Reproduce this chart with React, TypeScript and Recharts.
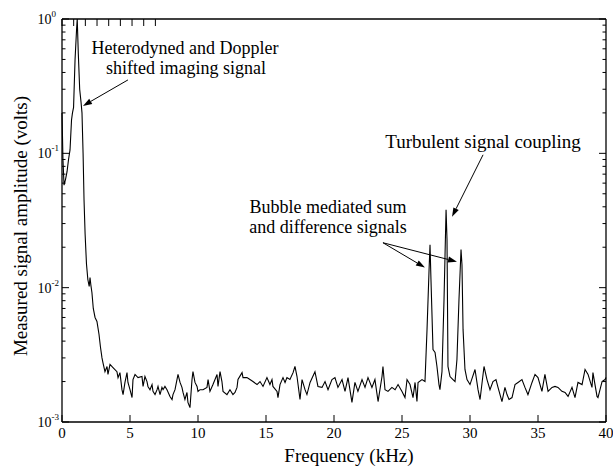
import { LineChart, Line, XAxis, YAxis, ReferenceLine, ReferenceDot } from "recharts";

// spectrum (kHz, volts)
const freqKHz = [
  0, 0.07, 0.15, 0.26, 0.37, 0.48, 0.59, 0.7, 0.77, 0.85, 0.96, 1.07, 1.12, 1.2, 1.3, 1.4, 1.47, 1.55, 1.62, 1.7,
  1.8, 1.9, 2.0, 2.06, 2.12, 2.2, 2.3, 2.43, 2.57, 2.72, 2.83, 2.94,
  3.01, 3.16, 3.31, 3.38, 3.53, 3.75, 4.04, 4.12, 4.26, 4.41, 4.49, 4.63, 4.78, 4.85, 5.0, 5.15, 5.22, 5.37, 5.59,
  5.88, 5.96, 6.1, 6.25, 6.32, 6.47, 6.62, 6.69, 6.84, 6.99, 7.06, 7.21, 7.35, 7.43, 7.57, 7.72, 7.94, 8.09, 8.16,
  8.31, 8.53, 8.68, 8.82, 8.9, 9.04, 9.19, 9.26, 9.41, 9.56, 9.63, 9.78, 9.93, 10.0, 10.15, 10.37, 10.66, 10.74,
  10.88, 11.1, 11.4, 11.47, 11.62, 11.76, 11.84, 12.13, 12.35, 12.57, 12.72, 12.87, 12.94, 13.24, 13.31, 13.6,
  13.82, 14.04, 14.34, 14.56, 14.78, 15.07, 15.29, 15.44, 15.51, 15.81, 15.88, 16.03, 16.25, 16.4, 16.54, 16.76,
  16.99, 17.13, 17.28, 17.5, 17.65, 17.87, 18.01, 18.24, 18.6, 18.82, 19.12, 19.34, 19.56, 19.85, 20.07, 20.29,
  20.59, 20.81, 21.03, 21.32, 21.54, 21.76, 22.06, 22.28, 22.5, 22.79, 23.01, 23.24, 23.53, 23.6, 23.75, 23.97,
  24.26, 24.49, 24.71, 25.0, 25.22, 25.37, 25.59, 25.81, 25.96, 26.1, 26.18, 26.47, 26.69,
  26.84, 26.99, 27.06, 27.13, 27.28, 27.43, 27.57, 27.72, 27.79, 27.94, 28.09, 28.24, 28.31, 28.38, 28.53, 28.75,
  28.9, 29.04, 29.19, 29.34, 29.41, 29.49, 29.63, 29.78,
  30.0, 30.37, 30.59, 30.74, 31.03, 31.25, 31.47, 31.69, 31.91, 32.06, 32.35, 32.57, 32.72, 32.87, 33.09, 33.31,
  33.53, 33.82, 34.04, 34.26, 34.56, 34.78, 35.0, 35.29, 35.51, 35.74, 36.03, 36.25, 36.47, 36.76, 36.99, 37.21,
  37.5, 37.72, 37.94, 38.24, 38.46, 38.68, 38.97, 39.04, 39.34, 39.41, 39.71, 39.93, 40.0,
];

const amplitudeV = [
  0.2, 0.09, 0.058, 0.064, 0.073, 0.09, 0.106, 0.177, 0.2, 0.22, 0.5, 0.83, 1.0, 0.55, 0.3, 0.24, 0.2, 0.1, 0.045, 0.025,
  0.015, 0.0115, 0.0102, 0.0119, 0.0105, 0.0092, 0.007, 0.006, 0.0056, 0.0045, 0.0036, 0.003,
  2.77e-3, 2.37e-3, 2.59e-3, 2.26e-3, 2.68e-3, 2.54e-3, 2.37e-3, 2.14e-3, 2.33e-3, 1.74e-3, 1.6e-3, 1.97e-3, 2.33e-3,
  1.97e-3, 1.74e-3, 1.52e-3, 2.07e-3, 2.26e-3, 2.14e-3,
  2.18e-3, 1.84e-3, 2.18e-3, 2.0e-3, 1.84e-3, 1.74e-3, 1.9e-3, 1.69e-3, 1.6e-3, 1.74e-3, 1.84e-3, 1.6e-3, 1.81e-3,
  1.74e-3, 1.84e-3, 1.74e-3, 1.55e-3, 1.47e-3, 1.6e-3,
  1.74e-3, 2.26e-3, 1.97e-3, 1.81e-3, 1.66e-3, 1.47e-3, 1.66e-3, 1.4e-3, 1.28e-3, 2.07e-3, 2.37e-3, 1.97e-3, 1.84e-3,
  1.69e-3, 1.74e-3, 1.74e-3, 1.81e-3, 2.07e-3,
  1.69e-3, 1.9e-3, 2.26e-3, 1.84e-3, 2.37e-3, 2.0e-3, 1.69e-3, 1.6e-3, 1.74e-3, 1.6e-3, 1.66e-3, 1.81e-3, 2.07e-3,
  2.33e-3, 2.14e-3, 2.14e-3,
  2.07e-3, 2.0e-3, 1.9e-3, 2.0e-3, 1.84e-3, 2.14e-3, 1.9e-3, 2.07e-3, 1.84e-3, 1.69e-3, 1.52e-3, 1.9e-3, 2.14e-3,
  1.97e-3, 2.14e-3, 2.07e-3,
  2.33e-3, 2.59e-3, 2.18e-3, 1.47e-3, 2.07e-3, 1.74e-3, 1.6e-3, 1.97e-3, 2.37e-3, 1.84e-3, 1.81e-3, 2.0e-3, 1.74e-3,
  2.07e-3, 2.14e-3, 1.81e-3,
  2.07e-3, 1.69e-3, 2.14e-3, 1.4e-3, 1.97e-3, 1.69e-3, 2.07e-3, 1.81e-3, 2.14e-3, 1.81e-3, 2.07e-3, 1.42e-3, 2.18e-3,
  2.59e-3, 1.74e-3, 1.69e-3,
  1.81e-3, 1.74e-3, 1.9e-3, 1.69e-3, 1.52e-3, 2.07e-3, 1.9e-3, 1.52e-3, 1.97e-3, 1.42e-3, 1.97e-3, 2.07e-3, 2.0e-3,
  4.87e-3, 1.36e-2, 2.09e-2, 1.15e-2, 3.46e-3, 3.29e-3, 2.59e-3, 1.9e-3, 1.74e-3, 2.37e-3, 8.15e-3, 3.8e-2, 2.27e-2,
  2.59e-3, 2.18e-3, 2.07e-3,
  2.0e-3, 2.92e-3, 8.15e-3, 1.92e-2, 1.48e-2, 4.87e-3, 2.46e-3, 2.07e-3,
  1.9e-3, 2.46e-3, 1.74e-3, 1.47e-3, 2.59e-3, 2.07e-3, 1.74e-3, 2.0e-3, 2.07e-3, 1.81e-3, 1.42e-3, 1.81e-3, 1.6e-3,
  1.47e-3, 1.52e-3, 1.9e-3,
  1.97e-3, 2.07e-3, 1.81e-3, 1.6e-3, 1.97e-3, 2.26e-3, 2.14e-3, 1.69e-3, 2.26e-3, 1.69e-3, 1.81e-3, 1.84e-3, 1.81e-3,
  1.69e-3, 1.66e-3, 1.55e-3,
  1.81e-3, 1.52e-3, 1.97e-3, 1.9e-3, 2.46e-3, 2.26e-3, 1.81e-3, 2.33e-3, 1.55e-3, 1.52e-3, 2.0e-3, 2.07e-3, 2.14e-3,
];

const xTicks = [0, 5, 10, 15, 20, 25, 30, 35, 40];
const yMajorTicks = [0.001, 0.01, 0.1, 1];
const yMinorTicks = [
  0.002, 0.003, 0.004, 0.005, 0.006, 0.007, 0.008, 0.009,
  0.02, 0.03, 0.04, 0.05, 0.06, 0.07, 0.08, 0.09,
  0.2, 0.3, 0.4, 0.5, 0.6, 0.7, 0.8, 0.9,
];

const data = freqKHz.map((f, i) => ({ f, a: amplitudeV[i] }));
const yTicks = [...yMajorTicks, ...yMinorTicks].sort((p, q) => p - q);

const FONT = "'Liberation Serif', 'Times New Roman', Times, 'DejaVu Serif', serif";
const txt = (size: number) => ({ fontFamily: FONT, fontSize: size });

// annotation text anchors (data coordinates)
const notes = [
  { f: 9.04, a: 0.609, text: "Heterodyned and Doppler", size: 18 },
  { f: 9.12, a: 0.432, text: "shifted imaging signal", size: 18 },
  { f: 30.96, a: 0.1218, text: "Turbulent signal coupling", size: 19 },
  { f: 19.56, a: 0.04, text: "Bubble mediated sum", size: 18 },
  { f: 19.56, a: 0.0284, text: "and difference signals", size: 18 },
];

const arrows = [
  { from: { x: 4.85, y: 0.352 }, to: { x: 1.54, y: 0.2255 } },
  { from: { x: 30.96, y: 0.0975 }, to: { x: 28.68, y: 0.0337 } },
  { from: { x: 23.6, y: 0.0216 }, to: { x: 26.69, y: 0.0141 } },
  { from: { x: 23.6, y: 0.0216 }, to: { x: 29.04, y: 0.0156 } },
];

const isMajor = (v: number) => yMajorTicks.includes(v);

function LeftTick(props: any) {
  const { x, y, payload } = props;
  const v = payload.value;
  const major = isMajor(v);
  return (
    <g>
      <line x1={x} x2={x + (major ? 7 : 3.5)} y1={y} y2={y} stroke="#000" strokeWidth={1} />
      {major && (
        <text x={x - 24.5} y={y} dy={5} style={txt(14)} fill="#000">
          10
          <tspan dy={-7} style={txt(9)}>
            {Math.round(Math.log10(v))}
          </tspan>
        </text>
      )}
    </g>
  );
}

function RightTick(props: any) {
  const { x, y, payload } = props;
  const major = isMajor(payload.value);
  return <line x1={x} x2={x - (major ? 7 : 3.5)} y1={y} y2={y} stroke="#000" strokeWidth={1} />;
}

function BottomTick(props: any) {
  const { x, y, payload } = props;
  return (
    <g>
      <line x1={x} x2={x} y1={y} y2={y - 7} stroke="#000" strokeWidth={1} />
      <text x={x} y={y + 16} textAnchor="middle" style={txt(15)} fill="#000">
        {payload.value}
      </text>
    </g>
  );
}

function TopTick(props: any) {
  const { x, y } = props;
  return <line x1={x} x2={x} y1={y} y2={y + 7} stroke="#000" strokeWidth={1} />;
}

function Arrow(props: any) {
  const { x1, y1, x2, y2 } = props;
  const ang = Math.atan2(y2 - y1, x2 - x1);
  const len = 9;
  const half = 3;
  const bx = x2 - len * Math.cos(ang);
  const by = y2 - len * Math.sin(ang);
  const px = -Math.sin(ang) * half;
  const py = Math.cos(ang) * half;
  return (
    <g>
      <line x1={x1} y1={y1} x2={bx} y2={by} stroke="#000" strokeWidth={1} />
      <polygon points={`${x2},${y2} ${bx + px},${by + py} ${bx - px},${by - py}`} fill="#000" />
    </g>
  );
}

export default function App() {
  return (
    <div style={{ position: "absolute", left: 0, top: 0, width: 613, height: 466, background: "#fff" }}>
      <LineChart width={613} height={466} data={data} margin={{ top: 14, right: 5, bottom: 0, left: 12 }}>
        <XAxis
          dataKey="f"
          type="number"
          domain={[0, 40]}
          ticks={xTicks}
          interval={0}
          height={44}
          tickSize={0}
          tickMargin={0}
          tickLine={false}
          axisLine={{ stroke: "#000", strokeWidth: 1.3 }}
          tick={(p: any) => <BottomTick {...p} />}
          label={{
            value: "Frequency (kHz)",
            content: () => (
              <text x={349} y={462} textAnchor="middle" style={txt(19)} fill="#000">
                Frequency (kHz)
              </text>
            ),
          }}
        />
        <XAxis
          xAxisId="top"
          orientation="top"
          type="number"
          domain={[0, 40]}
          ticks={xTicks}
          interval={0}
          height={5}
          tickSize={0}
          tickMargin={0}
          tickLine={false}
          axisLine={{ stroke: "#000", strokeWidth: 1.3 }}
          tick={(p: any) => <TopTick {...p} />}
        />
        <YAxis
          scale="log"
          type="number"
          domain={[0.001, 1]}
          allowDataOverflow
          ticks={yTicks}
          interval={0}
          width={50}
          tickSize={0}
          tickMargin={0}
          tickLine={false}
          axisLine={{ stroke: "#000", strokeWidth: 1.3 }}
          tick={(p: any) => <LeftTick {...p} />}
          label={{
            value: "Measured signal amplitude (volts)",
            content: () => (
              <text
                x={20}
                y={226}
                transform="rotate(-90 20 226)"
                textAnchor="middle"
                dominantBaseline="central"
                style={txt(19)}
                fill="#000"
              >
                Measured signal amplitude (volts)
              </text>
            ),
          }}
        />
        <YAxis
          yAxisId="right"
          orientation="right"
          scale="log"
          type="number"
          domain={[0.001, 1]}
          allowDataOverflow
          ticks={yTicks}
          interval={0}
          width={2}
          tickSize={0}
          tickMargin={0}
          tickLine={false}
          axisLine={{ stroke: "#000", strokeWidth: 1.3 }}
          tick={(p: any) => <RightTick {...p} />}
        />
        <Line
          dataKey="a"
          type="linear"
          stroke="#000"
          strokeWidth={1.1}
          dot={false}
          isAnimationActive={false}
        />
        {arrows.map((ar, i) => (
          <ReferenceLine
            key={`ar${i}`}
            segment={[ar.from, ar.to]}
            ifOverflow="visible"
            shape={(p: any) => <Arrow {...p} />}
          />
        ))}
        {notes.map((n, i) => (
          <ReferenceDot
            key={`n${i}`}
            x={n.f}
            y={n.a}
            r={0}
            ifOverflow="visible"
            shape={(p: any) => (
              <text
                x={p.cx}
                y={p.cy}
                textAnchor="middle"
                dominantBaseline="central"
                style={txt(n.size)}
                fill="#000"
              >
                {n.text}
              </text>
            )}
          />
        ))}
      </LineChart>
    </div>
  );
}
